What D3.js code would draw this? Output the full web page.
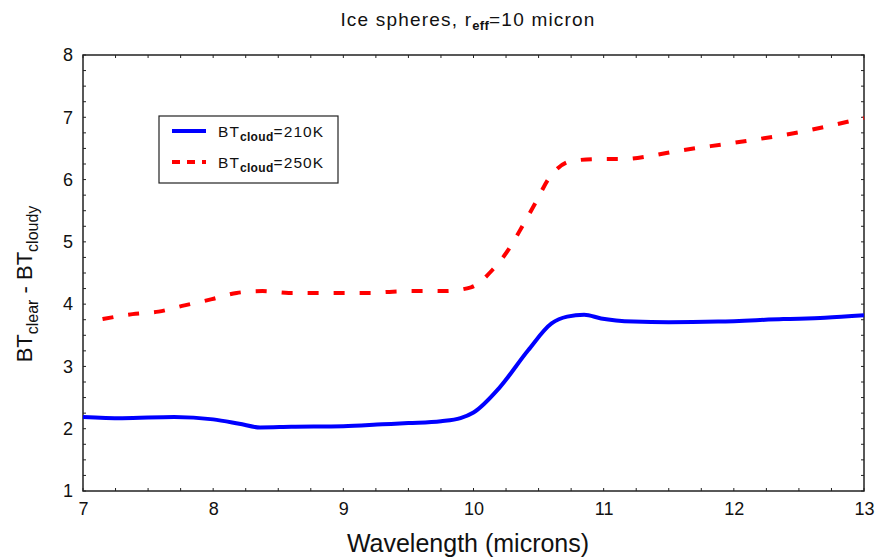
<!DOCTYPE html>
<html>
<head>
<meta charset="utf-8">
<script src="https://cdn.jsdelivr.net/npm/d3@7"></script>
<style>
  body { margin: 0; background: #fff; }
  text { font-family: "Liberation Sans", Arial, sans-serif; fill: #111; }
</style>
</head>
<body>
<svg width="878" height="558"></svg>
<script>
// wavelength (microns) / BT difference
const wl210 = [7.0, 7.3, 7.7, 8.0, 8.2, 8.36, 8.6, 9.0, 9.3, 9.5, 9.75, 9.9, 10.0, 10.2, 10.42, 10.6, 10.72, 10.85, 10.98, 11.23, 11.5, 11.88, 12.38, 12.7, 13.0]
const bt210 = [2.19, 2.17, 2.19, 2.15, 2.08, 2.02, 2.03, 2.04, 2.07, 2.09, 2.12, 2.17, 2.26, 2.66, 3.26, 3.69, 3.80, 3.83, 3.77, 3.72, 3.71, 3.72, 3.76, 3.78, 3.82]

const wl250 = [7.15, 7.38, 7.58, 7.78, 7.99, 8.18, 8.38, 8.58, 8.78, 9.0, 9.2, 9.38, 9.58, 9.78, 9.98, 10.15, 10.28, 10.38, 10.48, 10.57, 10.76, 10.96, 11.15, 11.36, 11.57, 12.0, 12.5, 13.0]
const bt250 = [3.76, 3.84, 3.88, 3.98, 4.08, 4.18, 4.21, 4.18, 4.18, 4.18, 4.18, 4.2, 4.21, 4.21, 4.27, 4.56, 4.91, 5.27, 5.64, 5.99, 6.30, 6.33, 6.33, 6.38, 6.46, 6.59, 6.76, 6.99]

const xTicks = [7, 8, 9, 10, 11, 12, 13]
const yTicks = [1, 2, 3, 4, 5, 6, 7, 8]

const svg = d3.select("svg")
const mLeft = 83, mRight = 864, mTop = 55, mBottom = 491

const x = d3.scaleLinear().domain([7, 13]).range([mLeft, mRight])
const y = d3.scaleLinear().domain([1, 8]).range([mBottom, mTop])

// minor ticks every 0.25, inward on all sides
const minorX = d3.range(7, 13.001, 0.25)
const minorY = d3.range(1, 8.001, 0.25)
const ticks = svg.append("g").attr("stroke", "#222").attr("stroke-width", 1)
minorX.forEach(function(v){
  ticks.append("line").attr("x1", x(v)).attr("x2", x(v)).attr("y1", mBottom).attr("y2", mBottom - 3)
  ticks.append("line").attr("x1", x(v)).attr("x2", x(v)).attr("y1", mTop).attr("y2", mTop + 3)
})
minorY.forEach(function(v){
  ticks.append("line").attr("x1", mLeft).attr("x2", mLeft + 3).attr("y1", y(v)).attr("y2", y(v))
  ticks.append("line").attr("x1", mRight).attr("x2", mRight - 3).attr("y1", y(v)).attr("y2", y(v))
})

// tick labels via axes, no tick lines
const xAxis = svg.append("g")
    .attr("transform", "translate(0," + mBottom + ")")
    .call(d3.axisBottom(x).tickValues(xTicks).tickFormat(d3.format("d")).tickSize(0).tickPadding(11))
xAxis.select(".domain").remove()
xAxis.selectAll("text").attr("font-size", 18).attr("fill", "#111")
  .attr("font-family", "Liberation Sans, Arial, sans-serif")

const yAxis = svg.append("g")
    .attr("transform", "translate(" + mLeft + ",0)")
    .call(d3.axisLeft(y).tickValues(yTicks).tickFormat(d3.format("d")).tickSize(0).tickPadding(10))
yAxis.select(".domain").remove()
yAxis.selectAll("text").attr("font-size", 18).attr("fill", "#111")
  .attr("font-family", "Liberation Sans, Arial, sans-serif")

// frame
svg.append("rect")
    .attr("x", mLeft).attr("y", mTop)
    .attr("width", mRight - mLeft).attr("height", mBottom - mTop)
    .attr("fill", "none").attr("stroke", "#222").attr("stroke-width", 1.5)

const line = d3.line()
    .x(function(d){ return x(d[0]) })
    .y(function(d){ return y(d[1]) })
    .curve(d3.curveMonotoneX)

svg.append("path")
    .attr("d", line(d3.zip(wl210, bt210)))
    .attr("fill", "none").attr("stroke", "#0000ff").attr("stroke-width", 4)

svg.append("path")
    .attr("d", line(d3.zip(wl250, bt250)))
    .attr("fill", "none").attr("stroke", "#ff0000").attr("stroke-width", 4)
    .attr("stroke-dasharray", "11,15")

// legend
const lg = svg.append("g")
lg.append("rect").attr("x", 159).attr("y", 116).attr("width", 179).attr("height", 67)
    .attr("fill", "#fff").attr("stroke", "#222").attr("stroke-width", 1.2)
lg.append("line").attr("x1", 172).attr("x2", 206).attr("y1", 131).attr("y2", 131)
    .attr("stroke", "#0000ff").attr("stroke-width", 4)
lg.append("line").attr("x1", 172).attr("x2", 206).attr("y1", 162).attr("y2", 162)
    .attr("stroke", "#ff0000").attr("stroke-width", 4).attr("stroke-dasharray", "8,7")

const labels = ["210K", "250K"]
labels.forEach(function(l, i){
  const t = lg.append("text").attr("x", 218).attr("y", 137 + i * 31)
      .attr("font-size", 15.5).attr("letter-spacing", 1.1)
  t.append("tspan").text("BT")
  t.append("tspan").attr("font-size", 12).attr("dy", 4).attr("font-weight", "bold")
      .attr("letter-spacing", 0.3).text("cloud")
  t.append("tspan").attr("dy", -4).text("=" + l)
})

// title
const title = svg.append("text").attr("x", 468).attr("y", 26).attr("text-anchor", "middle")
    .attr("font-size", 19).attr("letter-spacing", 1.2)
title.append("tspan").text("Ice spheres, r")
title.append("tspan").attr("font-size", 13).attr("dy", 4).attr("font-weight", "bold")
    .attr("letter-spacing", 0.3).text("eff")
title.append("tspan").attr("dy", -4).text("=10 micron")

// axis titles
svg.append("text").attr("x", 468).attr("y", 552).attr("text-anchor", "middle")
    .attr("font-size", 25).text("Wavelength (microns)")

const yt = svg.append("text").attr("transform", "translate(32,284) rotate(-90)")
    .attr("text-anchor", "middle").attr("font-size", 22)
yt.append("tspan").text("BT")
yt.append("tspan").attr("font-size", 16).attr("dy", 6).text("clear")
yt.append("tspan").attr("dy", -6).text(" - BT")
yt.append("tspan").attr("font-size", 16).attr("dy", 6).text("cloudy")
</script>
</body>
</html>
